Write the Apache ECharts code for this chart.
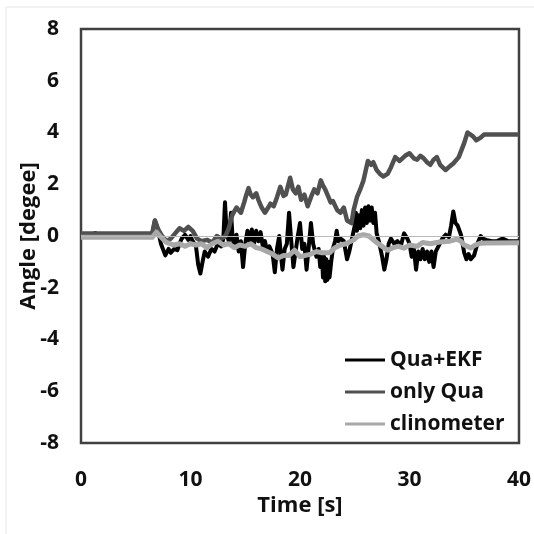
<!DOCTYPE html>
<html>
<head>
<meta charset="utf-8">
<script src="https://cdn.jsdelivr.net/npm/echarts@6/dist/echarts.min.js"></script>
<style>
  html, body { margin: 0; padding: 0; background: #fff; }
  #chart { width: 534px; height: 534px; }
</style>
</head>
<body>
<div id="chart"></div>
<script>
// Qua+EKF (black)
var ekfT = [0, 1.0, 1.3, 1.6, 4, 6.5, 6.75, 7.0, 7.3, 7.7, 8.0, 8.2, 8.5, 8.8, 9.0, 9.2, 9.5, 9.8, 10.0, 10.2,
  10.5, 10.7, 10.9, 11.1, 11.3, 11.6, 11.9, 12.2, 12.5, 12.8, 13.0, 13.15, 13.3, 13.5, 13.7, 13.85, 14.0, 14.2, 14.4, 14.6,
  14.8, 15.0, 15.2, 15.4, 15.6, 15.8, 16.0, 16.2, 16.4, 16.6, 16.8, 17.0, 17.2, 17.5, 17.7, 17.9, 18.1, 18.25, 18.4, 18.6,
  18.8, 19.0, 19.2, 19.4, 19.6, 19.8, 20.0, 20.2, 20.4, 20.6, 20.8, 21.0, 21.2, 21.5, 21.7, 21.85, 22.0, 22.1, 22.2, 22.3,
  22.4, 22.5, 22.6, 22.7, 22.85, 23.0, 23.2, 23.35, 23.5, 23.7, 24.0, 24.3, 24.5, 24.8, 25.0, 25.1, 25.2, 25.35, 25.5, 25.65,
  25.8, 25.95, 26.1, 26.25, 26.4, 26.55, 26.7, 26.85, 27.0, 27.2, 27.5, 27.7, 27.9, 28.1, 28.3, 28.6, 28.9, 29.2, 29.5, 29.8,
  30.0, 30.2, 30.4, 30.6, 30.8, 31.0, 31.2, 31.4, 31.6, 31.8, 32.0, 32.2, 32.4, 32.7, 33.0, 33.3, 33.6, 33.8, 34.0, 34.2,
  34.4, 34.7, 35.0, 35.2, 35.4, 35.6, 35.9, 36.2, 36.5, 36.7, 37.0, 37.5, 38.0, 38.5, 39.0, 40];
var ekfV = [0.05, 0.05, 0.12, 0.05, 0.05, 0.05, 0.6, 0.3, -0.3, -0.75, -0.5, -0.65, -0.5, -0.55, -0.3, -0.1, 0.05, -0.15, 0.0, -0.2,
  -0.4, -1.1, -1.45, -1.0, -0.6, -0.8, -0.5, -0.6, -0.3, -0.4, -0.1, 1.3, 0.1, -0.2, 0.9, -0.1, -0.4, 0.05, -0.6, -0.2,
  -1.2, -0.3, 0.2, -0.2, 0.25, -0.3, 0.2, -0.2, 0.15, -0.4, -0.2, -0.6, -0.4, -0.7, -1.4, -0.5, 0.0, -0.7, -1.3, -0.5,
  -0.3, 0.9, -0.2, -1.2, -0.6, 0.0, 0.5, -0.5, -0.3, -1.3, -0.4, 0.5, -0.3, -0.8, -0.5, -1.2, -0.7, -1.6, -0.8, -1.75,
  -0.9, -1.7, -1.0, -1.6, -1.0, -0.5, -0.2, 0.2, -0.2, -0.1, -0.2, -0.9, -0.6, 0.0, 0.4, 0.9, 0.2, 0.8, 0.3, 1.0,
  0.4, 1.1, 0.5, 1.15, 0.6, 1.1, 0.5, 0.9, 0.1, -0.2, -0.8, -1.3, -0.9, -0.3, -0.1, -0.3, -0.2, -0.4, 0.1, -0.1,
  -0.3, -0.8, -0.5, -1.3, -0.6, -0.9, -0.5, -0.9, -0.6, -1.0, -0.6, -1.2, -0.6, -0.35, -0.1, 0.05, -0.05, 0.4, 0.95, 0.5,
  0.4, 0.05, -0.65, -0.9, -0.7, -0.9, -0.75, -0.3, 0.0, -0.1, -0.15, -0.2, -0.2, -0.1, -0.2, -0.2];

// only Qua (dark gray)
var quaT = [0, 6.5, 6.75, 7.0, 7.4, 7.8, 8.2, 8.6, 9.0, 9.4, 9.8, 10.2, 10.6, 11.0, 11.5, 12.0, 12.4, 12.8, 13.2, 13.5,
  13.8, 14.0, 14.2, 14.6, 14.9, 15.1, 15.3, 15.5, 15.7, 16.0, 16.2, 16.5, 16.8, 17.1, 17.3, 17.6, 17.9, 18.2, 18.5, 18.7,
  19.1, 19.35, 19.6, 19.85, 20.1, 20.4, 20.7, 21.0, 21.3, 21.6, 21.9, 22.1, 22.3, 22.6, 22.8, 23.0, 23.4, 23.7, 24.0, 24.3,
  24.7, 24.9, 25.2, 25.5, 25.8, 26.2, 26.5, 26.7, 27.0, 27.3, 27.6, 28.0, 28.3, 28.7, 29.1, 29.6, 30.0, 30.4, 30.7, 31.0,
  31.3, 31.6, 31.9, 32.2, 32.5, 32.8, 33.3, 33.7, 34.0, 34.5, 35.0, 35.3, 35.8, 36.1, 36.5, 36.8, 40];
var quaV = [0.1, 0.1, 0.6, 0.3, 0.0, -0.2, -0.1, 0.1, 0.3, 0.2, 0.35, 0.2, -0.1, -0.2, -0.15, -0.25, 0.0, -0.1, 0.0, 0.3,
  0.8, 0.95, 1.1, 0.9, 1.3, 1.6, 1.85, 1.6, 1.5, 1.65, 1.4, 1.1, 0.9, 1.1, 1.25, 1.15, 1.5, 1.9, 1.55, 1.6,
  2.25, 1.8, 1.65, 1.9, 1.4, 1.6, 1.15, 1.5, 1.8, 1.65, 2.15, 1.95, 1.8, 1.5, 1.3, 1.35, 1.0, 0.9, 1.1, 0.6,
  0.5, 1.0, 1.5, 1.8, 2.15, 2.9, 2.75, 2.85, 2.55, 2.4, 2.3, 2.4, 2.65, 3.05, 2.9, 3.1, 3.2, 3.0, 2.95, 3.1,
  3.0, 2.85, 2.75, 2.95, 3.05, 2.75, 2.55, 2.7, 2.8, 3.05, 3.6, 4.0, 3.85, 3.7, 3.8, 3.92, 3.92];

// clinometer (light gray)
var clinoT = [0, 6.5, 6.9, 7.2, 7.8, 8.5, 9.0, 9.5, 10.0, 10.5, 11.0, 11.5, 12.0, 12.5, 13.0, 13.5, 14.0, 14.5, 15.0, 15.5,
  16.0, 16.5, 17.0, 17.5, 18.0, 18.5, 19.0, 19.5, 20.0, 20.5, 21.0, 21.5, 22.0, 22.7, 23.2, 23.7, 24.2, 24.9, 25.3, 25.8,
  26.3, 27.0, 27.5, 28.0, 28.5, 29.0, 29.5, 30.0, 30.7, 31.2, 31.9, 32.5, 33.0, 33.7, 34.3, 34.7, 35.0, 35.6, 36.0, 36.5,
  37.0, 40];
var clinoV = [-0.05, -0.05, 0.15, 0.0, -0.25, -0.35, -0.3, -0.4, -0.3, -0.35, -0.3, -0.45, -0.3, -0.2, -0.35, -0.3, -0.45, -0.35, -0.4, -0.3,
  -0.45, -0.5, -0.6, -0.7, -0.85, -0.75, -0.75, -0.55, -0.8, -0.75, -0.7, -0.6, -0.65, -0.65, -0.45, -0.35, -0.3, -0.15, 0.0, 0.05,
  0.0, -0.25, -0.4, -0.55, -0.45, -0.4, -0.47, -0.35, -0.4, -0.25, -0.3, -0.25, -0.22, -0.2, -0.12, -0.2, -0.35, -0.46, -0.35, -0.28,
  -0.27, -0.26];

var seriesNames = ['Qua+EKF', 'only Qua', 'clinometer'];
var yTicks = [-8, 8, 2];
var xTicks = [0, 40, 10];

function pairs(t, v) {
  return t.map(function (x, i) { return [x, v[i]]; });
}

var font = '"Open Sans", Lato, sans-serif';
var chart = echarts.init(document.getElementById('chart'));

chart.setOption({
  backgroundColor: '#fff',
  animation: false,
  graphic: [{
    type: 'rect', shape: { x: 6, y: 7, width: 540, height: 540 },
    style: { fill: 'none', stroke: '#e6e6e6', lineWidth: 1 }, silent: true
  }],
  grid: {
    left: 81, top: 29, width: 438, height: 414,
    show: true, borderColor: '#404040', borderWidth: 2.5, backgroundColor: 'transparent'
  },
  legend: {
    orient: 'vertical', left: 340, top: 343,
    itemWidth: 40, itemHeight: 3, itemGap: 8, icon: 'rect',
    textStyle: { fontFamily: font, fontWeight: 'bold', fontSize: 21, lineHeight: 24, color: '#111' },
    data: seriesNames
  },
  xAxis: {
    type: 'value', min: xTicks[0], max: xTicks[1], interval: xTicks[2],
    name: 'Time [s]', nameLocation: 'middle', nameGap: 52, nameMoveOverlap: false,
    nameTextStyle: { fontFamily: font, fontWeight: 'bold', fontSize: 22, color: '#111' },
    axisLine: { show: false }, axisTick: { show: false }, splitLine: { show: false },
    axisLabel: { fontFamily: font, fontWeight: 'bold', fontSize: 21, color: '#111', margin: 27 }
  },
  yAxis: {
    type: 'value', min: yTicks[0], max: yTicks[1], interval: yTicks[2],
    name: 'Angle [degee]', nameLocation: 'middle', nameGap: 41, nameMoveOverlap: false,
    nameTextStyle: { fontFamily: font, fontWeight: 'bold', fontSize: 22, color: '#111' },
    axisLine: { show: false }, axisTick: { show: false }, splitLine: { show: false },
    axisLabel: { fontFamily: font, fontWeight: 'bold', fontSize: 21, color: '#111', margin: 22 }
  },
  series: [
    {
      name: seriesNames[0], type: 'line', showSymbol: false, symbol: 'none',
      data: pairs(ekfT, ekfV), color: '#000',
      lineStyle: { color: '#000', width: 4, join: 'round' },
      markLine: {
        silent: true, symbol: 'none', label: { show: false },
        lineStyle: { color: '#b8b8b8', width: 1, type: 'solid' },
        data: [{ yAxis: 0 }]
      }
    },
    {
      name: seriesNames[1], type: 'line', showSymbol: false, symbol: 'none',
      data: pairs(quaT, quaV), color: '#505050',
      lineStyle: { color: '#505050', width: 4.5, join: 'round' }
    },
    {
      name: seriesNames[2], type: 'line', showSymbol: false, symbol: 'none',
      data: pairs(clinoT, clinoV), color: '#a8a8a8',
      lineStyle: { color: '#a8a8a8', width: 5, join: 'round' }
    }
  ]
});
</script>
</body>
</html>
